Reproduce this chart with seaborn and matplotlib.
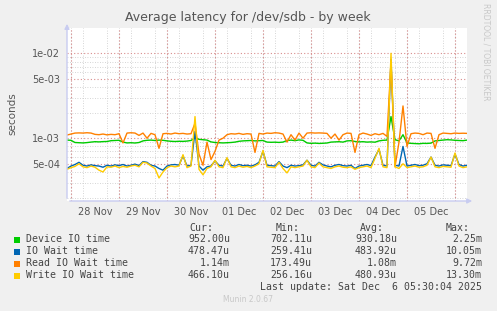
import numpy as np
import pandas as pd
import matplotlib
matplotlib.use("Agg")
import matplotlib.pyplot as plt
import matplotlib.dates as mdates
import seaborn as sns

# Munin week graph, values in microseconds, one sample every 2 hours
times = pd.date_range("2025-11-27 22:00", periods=101, freq="2h")

device_io = [950, 945, 890, 885, 880, 888, 900, 910, 905, 912,
             915, 935, 940, 945, 900, 880, 885, 878, 890, 930,
             945, 950, 940, 950, 945, 930, 920, 915, 920, 918,
             925, 940, 1010, 970, 960, 950, 905, 890, 885, 880,
             885, 890, 900, 920, 930, 935, 940, 930, 935, 940,
             900, 895, 898, 892, 900, 940, 950, 935, 955, 945,
             880, 870, 875, 868, 872, 878, 900, 905, 910, 900,
             930, 935, 915, 905, 910, 900, 905, 898, 930, 945,
             950, 1800, 960, 930, 1100, 880, 870, 865, 860, 870,
             868, 875, 930, 940, 950, 960, 955, 945, 940, 935, 950]

io_wait = [440, 470, 490, 520, 480, 470, 485, 475, 470, 455,
           480, 470, 485, 475, 490, 470, 480, 495, 475, 530,
           520, 480, 470, 440, 420, 470, 485, 490, 480, 620,
           470, 480, 1200, 470, 420, 460, 470, 540, 480, 470,
           580, 480, 470, 490, 475, 480, 470, 485, 520, 700,
           480, 475, 470, 530, 470, 450, 480, 470, 475, 485,
           550, 480, 470, 520, 485, 470, 460, 480, 490, 475,
           470, 480, 440, 470, 480, 490, 475, 600, 740, 480,
           470, 8500, 480, 470, 800, 470, 480, 490, 475, 480,
           500, 600, 480, 470, 485, 480, 475, 650, 490, 470, 480]

read_wait = [1090, 1120, 1150, 1155, 1150, 1160, 1150, 1110, 1100, 1120,
             1095, 1110, 1100, 1130, 880, 1150, 1160, 1150, 1080, 1150,
             1000, 1140, 1100, 760, 1130, 1140, 1120, 1150, 1130, 1140,
             1120, 1130, 1500, 650, 480, 900, 560, 700, 950, 1000,
             1100, 1130, 1120, 1140, 1110, 1130, 1120, 680, 1140, 1120,
             1150, 1140, 1160, 1150, 1120, 900, 1100, 950, 1150, 1000,
             1150, 1160, 1150, 1155, 1150, 1140, 1000, 1120, 950, 1100,
             1150, 1140, 680, 1100, 1150, 1120, 1080, 1130, 1100, 1140,
             1050, 8000, 460, 900, 2400, 800, 1130, 1150, 1140, 1100,
             1150, 1140, 760, 1100, 1150, 1140, 1130, 1150, 1140, 1145, 1140]

write_wait = [430, 450, 465, 500, 460, 450, 470, 455, 420, 400,
              460, 455, 470, 450, 465, 455, 470, 480, 460, 520,
              510, 470, 440, 340, 400, 450, 470, 460, 470, 640,
              450, 470, 1800, 430, 370, 440, 460, 550, 460, 450,
              590, 460, 450, 470, 455, 465, 450, 470, 500, 720,
              460, 455, 450, 520, 440, 390, 460, 450, 460, 470,
              550, 460, 450, 510, 460, 450, 440, 460, 470, 455,
              450, 460, 430, 450, 460, 470, 450, 580, 760, 460,
              450, 10000, 460, 440, 500, 450, 460, 470, 455, 460,
              480, 600, 460, 450, 465, 460, 455, 670, 470, 450, 460]

names = ["Device IO time", "IO Wait time", "Read IO Wait time", "Write IO Wait time"]
colors = ["#00CC00", "#0066B3", "#FF8000", "#FFCC00"]
cur = ["952.00u", "478.47u", "1.14m", "466.10u"]
mins = ["702.11u", "259.41u", "173.49u", "256.16u"]
avgs = ["930.18u", "483.92u", "1.08m", "480.93u"]
maxs = ["2.25m", "10.05m", "9.72m", "13.30m"]
day_labels = ["28 Nov", "29 Nov", "30 Nov", "01 Dec", "02 Dec", "03 Dec", "04 Dec", "05 Dec"]

df = pd.concat([
    pd.DataFrame({"time": times, "value": np.array(v) * 1e-6, "series": n})
    for n, v in zip(names, [device_io, io_wait, read_wait, write_wait])
])

W, H = 497, 311
fig = plt.figure(figsize=(W / 100, H / 100), dpi=100, facecolor="#F0F0F0")
ax = fig.add_axes([67 / W, 1 - 201 / H, 400 / W, 173 / H])
ax.set_facecolor("white")

sns.lineplot(data=df, x="time", y="value", hue="series", hue_order=names,
             palette=colors, legend=False, linewidth=1, ax=ax, zorder=3)

ax.set_yscale("log")
ax.set_ylim(1.82e-4, 0.0199)
ax.set_xlim(times[0], pd.Timestamp("2025-12-06 06:00"))

# grid: gray every 6 h and minor decades, red at midnight and labelled values
ax.xaxis.set_minor_locator(mdates.HourLocator(byhour=[0, 6, 12, 18]))
ax.yaxis.set_minor_locator(matplotlib.ticker.LogLocator(subs=np.arange(2, 10)))
ax.grid(True, which="minor", color="#C8C8C8", linestyle=(0, (1, 2)), linewidth=0.6)
for d in pd.date_range("2025-11-28", "2025-12-06", freq="D"):
    ax.axvline(d, color="#D98C8C", linestyle=(0, (1, 2)), linewidth=0.8, zorder=1)
yt = [1e-2, 5e-3, 1e-3, 5e-4]
for v in yt:
    ax.axhline(v, color="#D98C8C", linestyle=(0, (1, 2)), linewidth=0.8, zorder=1)
ax.set_axisbelow(True)

noon = pd.date_range("2025-11-28 12:00", periods=8, freq="D")
ax.set_xticks(noon)
ax.set_xticklabels(day_labels)
ax.set_yticks(yt)
ax.set_yticklabels(["1e-02", "5e-03", "1e-03", "5e-04"])
ax.tick_params(axis="both", which="both", length=0, labelsize=7, colors="#555555", pad=4)
ax.tick_params(axis="y", pad=5)
ax.set_xlabel("")
ax.set_ylabel("")

for s in ax.spines.values():
    s.set_visible(False)
ax.annotate("", xy=(0, 1.04), xytext=(0, 0), xycoords="axes fraction",
            arrowprops=dict(arrowstyle="-|>", color="#C8CCF0", lw=1, mutation_scale=7),
            annotation_clip=False)
ax.annotate("", xy=(1.02, 0), xytext=(0, 0), xycoords="axes fraction",
            arrowprops=dict(arrowstyle="-|>", color="#C8CCF0", lw=1, mutation_scale=7),
            annotation_clip=False)

def fx(x):
    return x / W

def fy(y):
    return 1 - y / H

fig.text(fx(248), fy(18), "Average latency for /dev/sdb - by week", ha="center", va="center",
         fontsize=9, color="#555555")
fig.text(fx(12), fy(114), "seconds", rotation=90, ha="center", va="center",
         fontsize=7.5, color="#555555")
fig.text(fx(486), fy(52), "RRDTOOL / TOBI OETIKER", rotation=270, ha="center", va="center",
         fontsize=5.5, color="#C8C8C8")

mono = dict(family="DejaVu Sans Mono", fontsize=7.1, color="#444444", va="center")
for x, h in zip([213, 300, 384, 470], ["Cur:", "Min:", "Avg:", "Max:"]):
    fig.text(fx(x), fy(228), h, ha="right", **mono)
rows = [239.5, 251.5, 263.5, 275.5]
for i, y in enumerate(rows):
    fig.patches.append(plt.Rectangle((fx(14), fy(y + 3)), 6 / W, 6 / H, transform=fig.transFigure,
                                     facecolor=colors[i], edgecolor="none"))
    fig.text(fx(26), fy(y), names[i], ha="left", **mono)
    fig.text(fx(230), fy(y), cur[i], ha="right", **mono)
    fig.text(fx(312), fy(y), mins[i], ha="right", **mono)
    fig.text(fx(397), fy(y), avgs[i], ha="right", **mono)
    fig.text(fx(482), fy(y), maxs[i], ha="right", **mono)
fig.text(fx(482), fy(287.5), "Last update: Sat Dec  6 05:30:04 2025", ha="right", **mono)
fig.text(fx(248), fy(300), "Munin 2.0.67", ha="center", va="center", fontsize=5.5, color="#C8C8C8")

fig.savefig("out.png", dpi=100, facecolor=fig.get_facecolor())
